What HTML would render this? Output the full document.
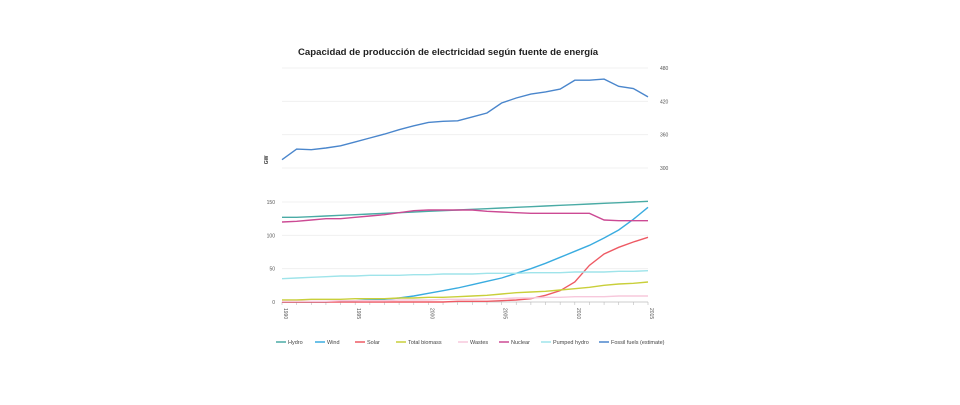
<!DOCTYPE html>
<html><head><meta charset="utf-8"><style>
body{margin:0;background:#fff;width:960px;height:400px;overflow:hidden;font-family:"Liberation Sans",sans-serif}
</style></head><body>
<svg width="960" height="400">
<text x="298" y="55" font-size="9.6" font-weight="bold" fill="#222">Capacidad de producción de electricidad según fuente de energía</text>
<text transform="translate(268,160) rotate(-90)" font-size="5" font-weight="bold" fill="#333" text-anchor="middle">GW</text>
<g id="grid"></g><g id="axes"></g><g id="lines"></g><g id="legend"></g>
</svg>
<script>
const years=[1990,1991,1992,1993,1994,1995,1996,1997,1998,1999,2000,2001,2002,2003,2004,2005,2006,2007,2008,2009,2010,2011,2012,2013,2014,2015];
const hydro=[127,127,128,129,130,131,132,133,134,135,136,137,138,139,140,141,142,143,144,145,146,147,148,149,150,151];
const wind=[0,0,0,0,1,2,3,4,6,9,13,17,21,26,31,36,43,50,58,67,76,85,96,108,124,142];
const solar=[0,0,0,0,0,0,0,0,0,0,0,0,1,1,1,2,3,5,10,17,30,55,72,82,90,97];
const biomass=[3,3,4,4,4,5,5,5,6,6,7,7,8,9,10,12,14,15,16,18,20,22,25,27,28,30];
const waste=[1,1,1,1,2,2,2,2,3,3,3,4,4,4,5,5,6,6,7,7,8,8,8,9,9,9];
const nuclear=[120,121,123,125,125,127,129,131,134,137,138,138,138,138,136,135,134,133,133,133,133,133,123,122,122,122];
const pumped=[35,36,37,38,39,39,40,40,40,41,41,42,42,42,43,43,43,44,44,44,45,45,45,46,46,47];
const fossil=[315,334,333,336,340,347,354,361,369,376,382,384,385,392,399,417,426,433,437,442,458,458,460,447,443,428];
const leftTicks=[0,50,100,150];
const rightTicks=[300,360,420,480];
const xTickLabels=[1990,1995,2000,2005,2010,2015];
const NS="http://www.w3.org/2000/svg";
const X0=282,X1=648;
const x=i=>X0+(X1-X0)*i/(years.length-1);
const yL=v=>302-v*(100/150);
const yR=v=>168-(v-300)*(100/180);
function mk(t,a,p){const e=document.createElementNS(NS,t);for(const k in a)e.setAttribute(k,a[k]);p.appendChild(e);return e;}
const grid=document.getElementById('grid'),axes=document.getElementById('axes'),lines=document.getElementById('lines'),leg=document.getElementById('legend');
leftTicks.forEach(v=>{const l=mk('line',{x1:X0,x2:X1,y1:yL(v),y2:yL(v),stroke:v?'#eee':'#bbb','stroke-width':0.8},grid);

const t=mk('text',{x:275,y:yL(v)+2,'font-size':5,fill:'#555','text-anchor':'end'},axes);t.textContent=v;
});
rightTicks.forEach(v=>{const l=mk('line',{x1:X0,x2:X1,y1:yR(v),y2:yR(v),stroke:'#eee','stroke-width':0.8},grid);

const t=mk('text',{x:660,y:yR(v)+2,'font-size':5,fill:'#555'},axes);t.textContent=v;
});
years.forEach((yr,i)=>{const l=mk('line',{x1:x(i),x2:x(i),y1:302,y2:305,stroke:'#bbb','stroke-width':0.6},axes);

if(xTickLabels.includes(yr)){const t=mk('text',{transform:`translate(${x(i)+2},308) rotate(90)`,'font-size':5,fill:'#555'},axes);t.textContent=yr;
}});
const series=[["Hydro",hydro,'#4aaba5',yL],["Wind",wind,'#3aace0',yL],["Solar",solar,'#ee5a64',yL],["Total biomass",biomass,'#c9cf3a',yL],["Wastes",waste,'#f7c8dc',yL],["Nuclear",nuclear,'#cc4a94',yL],["Pumped hydro",pumped,'#9fe4ea',yL],["Fossil fuels (estimate)",fossil,'#4a86cc',yR]];
const lx=[276,315,355,396,458,499,541,599];
series.forEach((s,k)=>{const p=mk('polyline',{points:s[1].map((v,i)=>x(i)+','+s[3](v)).join(' '),fill:'none',stroke:s[2],'stroke-width':1.4},lines);

const g=mk('g',{},leg);
mk('line',{x1:lx[k],x2:lx[k]+10,y1:342,y2:342,stroke:s[2],'stroke-width':1.5},g);
const t=mk('text',{x:lx[k]+12,y:344,'font-size':5.5,fill:'#444'},g);t.textContent=s[0];});
</script>
</body></html>
